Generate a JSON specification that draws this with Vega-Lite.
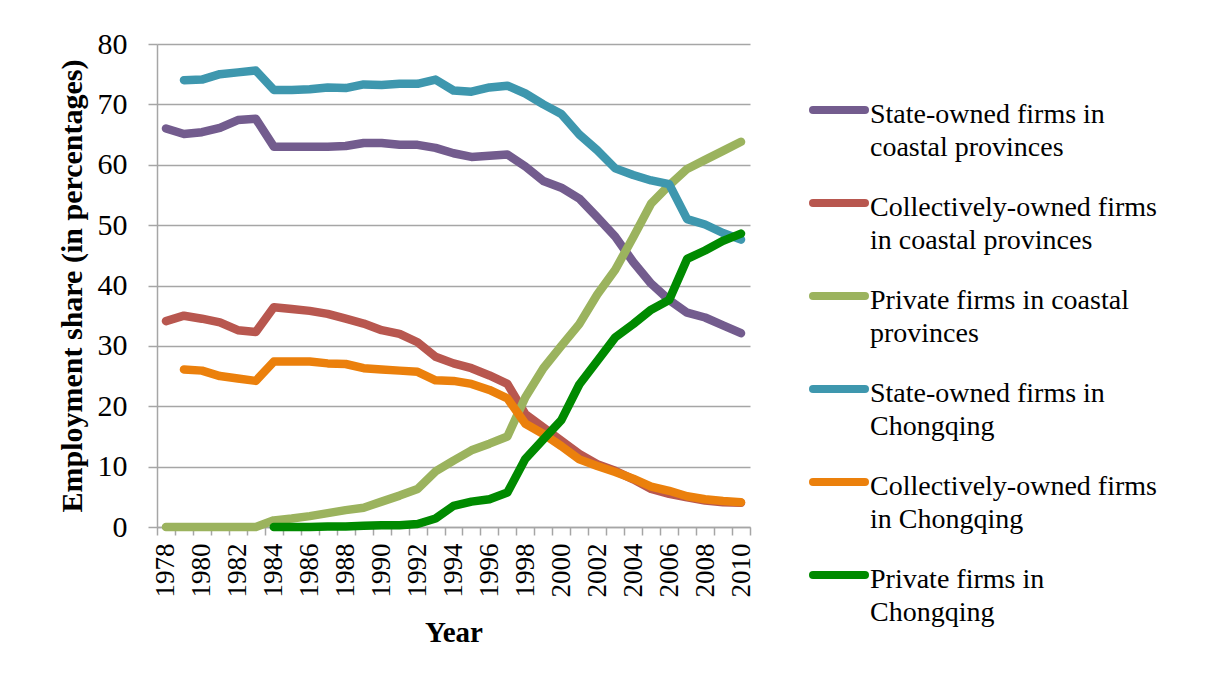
{
  "$schema": "https://vega.github.io/schema/vega-lite/v6.json",
  "width": 593,
  "height": 483,
  "autosize": {"type": "none"},
  "padding": {"left": 157, "top": 44, "right": 466, "bottom": 151},
  "background": "white",
  "config": {
    "view": {"stroke": null},
    "font": "Liberation Serif"
  },
  "data": {
    "values": [
      {"year": 1978, "series": "State-owned firms in coastal provinces", "value": 66.0},
      {"year": 1979, "series": "State-owned firms in coastal provinces", "value": 65.1},
      {"year": 1980, "series": "State-owned firms in coastal provinces", "value": 65.4},
      {"year": 1981, "series": "State-owned firms in coastal provinces", "value": 66.1},
      {"year": 1982, "series": "State-owned firms in coastal provinces", "value": 67.4},
      {"year": 1983, "series": "State-owned firms in coastal provinces", "value": 67.6},
      {"year": 1984, "series": "State-owned firms in coastal provinces", "value": 63.0},
      {"year": 1985, "series": "State-owned firms in coastal provinces", "value": 63.0},
      {"year": 1986, "series": "State-owned firms in coastal provinces", "value": 63.0},
      {"year": 1987, "series": "State-owned firms in coastal provinces", "value": 63.0},
      {"year": 1988, "series": "State-owned firms in coastal provinces", "value": 63.1},
      {"year": 1989, "series": "State-owned firms in coastal provinces", "value": 63.6},
      {"year": 1990, "series": "State-owned firms in coastal provinces", "value": 63.6},
      {"year": 1991, "series": "State-owned firms in coastal provinces", "value": 63.3},
      {"year": 1992, "series": "State-owned firms in coastal provinces", "value": 63.3},
      {"year": 1993, "series": "State-owned firms in coastal provinces", "value": 62.8},
      {"year": 1994, "series": "State-owned firms in coastal provinces", "value": 61.9},
      {"year": 1995, "series": "State-owned firms in coastal provinces", "value": 61.3},
      {"year": 1996, "series": "State-owned firms in coastal provinces", "value": 61.5},
      {"year": 1997, "series": "State-owned firms in coastal provinces", "value": 61.7},
      {"year": 1998, "series": "State-owned firms in coastal provinces", "value": 59.7},
      {"year": 1999, "series": "State-owned firms in coastal provinces", "value": 57.3},
      {"year": 2000, "series": "State-owned firms in coastal provinces", "value": 56.2},
      {"year": 2001, "series": "State-owned firms in coastal provinces", "value": 54.4},
      {"year": 2002, "series": "State-owned firms in coastal provinces", "value": 51.3},
      {"year": 2003, "series": "State-owned firms in coastal provinces", "value": 48.1},
      {"year": 2004, "series": "State-owned firms in coastal provinces", "value": 43.9},
      {"year": 2005, "series": "State-owned firms in coastal provinces", "value": 40.3},
      {"year": 2006, "series": "State-owned firms in coastal provinces", "value": 37.6},
      {"year": 2007, "series": "State-owned firms in coastal provinces", "value": 35.5},
      {"year": 2008, "series": "State-owned firms in coastal provinces", "value": 34.7},
      {"year": 2009, "series": "State-owned firms in coastal provinces", "value": 33.4},
      {"year": 2010, "series": "State-owned firms in coastal provinces", "value": 32.1},

      {"year": 1978, "series": "Collectively-owned firms in coastal provinces", "value": 34.1},
      {"year": 1979, "series": "Collectively-owned firms in coastal provinces", "value": 35.0},
      {"year": 1980, "series": "Collectively-owned firms in coastal provinces", "value": 34.5},
      {"year": 1981, "series": "Collectively-owned firms in coastal provinces", "value": 33.9},
      {"year": 1982, "series": "Collectively-owned firms in coastal provinces", "value": 32.6},
      {"year": 1983, "series": "Collectively-owned firms in coastal provinces", "value": 32.3},
      {"year": 1984, "series": "Collectively-owned firms in coastal provinces", "value": 36.4},
      {"year": 1985, "series": "Collectively-owned firms in coastal provinces", "value": 36.1},
      {"year": 1986, "series": "Collectively-owned firms in coastal provinces", "value": 35.8},
      {"year": 1987, "series": "Collectively-owned firms in coastal provinces", "value": 35.3},
      {"year": 1988, "series": "Collectively-owned firms in coastal provinces", "value": 34.5},
      {"year": 1989, "series": "Collectively-owned firms in coastal provinces", "value": 33.7},
      {"year": 1990, "series": "Collectively-owned firms in coastal provinces", "value": 32.6},
      {"year": 1991, "series": "Collectively-owned firms in coastal provinces", "value": 32.0},
      {"year": 1992, "series": "Collectively-owned firms in coastal provinces", "value": 30.6},
      {"year": 1993, "series": "Collectively-owned firms in coastal provinces", "value": 28.2},
      {"year": 1994, "series": "Collectively-owned firms in coastal provinces", "value": 27.1},
      {"year": 1995, "series": "Collectively-owned firms in coastal provinces", "value": 26.3},
      {"year": 1996, "series": "Collectively-owned firms in coastal provinces", "value": 25.1},
      {"year": 1997, "series": "Collectively-owned firms in coastal provinces", "value": 23.7},
      {"year": 1998, "series": "Collectively-owned firms in coastal provinces", "value": 18.7},
      {"year": 1999, "series": "Collectively-owned firms in coastal provinces", "value": 16.5},
      {"year": 2000, "series": "Collectively-owned firms in coastal provinces", "value": 14.3},
      {"year": 2001, "series": "Collectively-owned firms in coastal provinces", "value": 12.1},
      {"year": 2002, "series": "Collectively-owned firms in coastal provinces", "value": 10.4},
      {"year": 2003, "series": "Collectively-owned firms in coastal provinces", "value": 9.3},
      {"year": 2004, "series": "Collectively-owned firms in coastal provinces", "value": 7.9},
      {"year": 2005, "series": "Collectively-owned firms in coastal provinces", "value": 6.3},
      {"year": 2006, "series": "Collectively-owned firms in coastal provinces", "value": 5.5},
      {"year": 2007, "series": "Collectively-owned firms in coastal provinces", "value": 4.9},
      {"year": 2008, "series": "Collectively-owned firms in coastal provinces", "value": 4.4},
      {"year": 2009, "series": "Collectively-owned firms in coastal provinces", "value": 4.1},
      {"year": 2010, "series": "Collectively-owned firms in coastal provinces", "value": 4.0},

      {"year": 1978, "series": "Private firms in coastal provinces", "value": 0.0},
      {"year": 1979, "series": "Private firms in coastal provinces", "value": 0.0},
      {"year": 1980, "series": "Private firms in coastal provinces", "value": 0.0},
      {"year": 1981, "series": "Private firms in coastal provinces", "value": 0.0},
      {"year": 1982, "series": "Private firms in coastal provinces", "value": 0.0},
      {"year": 1983, "series": "Private firms in coastal provinces", "value": 0.0},
      {"year": 1984, "series": "Private firms in coastal provinces", "value": 1.1},
      {"year": 1985, "series": "Private firms in coastal provinces", "value": 1.4},
      {"year": 1986, "series": "Private firms in coastal provinces", "value": 1.8},
      {"year": 1987, "series": "Private firms in coastal provinces", "value": 2.3},
      {"year": 1988, "series": "Private firms in coastal provinces", "value": 2.8},
      {"year": 1989, "series": "Private firms in coastal provinces", "value": 3.2},
      {"year": 1990, "series": "Private firms in coastal provinces", "value": 4.2},
      {"year": 1991, "series": "Private firms in coastal provinces", "value": 5.2},
      {"year": 1992, "series": "Private firms in coastal provinces", "value": 6.3},
      {"year": 1993, "series": "Private firms in coastal provinces", "value": 9.2},
      {"year": 1994, "series": "Private firms in coastal provinces", "value": 11.0},
      {"year": 1995, "series": "Private firms in coastal provinces", "value": 12.7},
      {"year": 1996, "series": "Private firms in coastal provinces", "value": 13.8},
      {"year": 1997, "series": "Private firms in coastal provinces", "value": 15.0},
      {"year": 1998, "series": "Private firms in coastal provinces", "value": 21.5},
      {"year": 1999, "series": "Private firms in coastal provinces", "value": 26.3},
      {"year": 2000, "series": "Private firms in coastal provinces", "value": 30.0},
      {"year": 2001, "series": "Private firms in coastal provinces", "value": 33.6},
      {"year": 2002, "series": "Private firms in coastal provinces", "value": 38.5},
      {"year": 2003, "series": "Private firms in coastal provinces", "value": 42.6},
      {"year": 2004, "series": "Private firms in coastal provinces", "value": 48.0},
      {"year": 2005, "series": "Private firms in coastal provinces", "value": 53.6},
      {"year": 2006, "series": "Private firms in coastal provinces", "value": 56.6},
      {"year": 2007, "series": "Private firms in coastal provinces", "value": 59.3},
      {"year": 2008, "series": "Private firms in coastal provinces", "value": 60.8},
      {"year": 2009, "series": "Private firms in coastal provinces", "value": 62.3},
      {"year": 2010, "series": "Private firms in coastal provinces", "value": 63.8},

      {"year": 1979, "series": "State-owned firms in Chongqing", "value": 74.0},
      {"year": 1980, "series": "State-owned firms in Chongqing", "value": 74.1},
      {"year": 1981, "series": "State-owned firms in Chongqing", "value": 75.0},
      {"year": 1982, "series": "State-owned firms in Chongqing", "value": 75.3},
      {"year": 1983, "series": "State-owned firms in Chongqing", "value": 75.6},
      {"year": 1984, "series": "State-owned firms in Chongqing", "value": 72.4},
      {"year": 1985, "series": "State-owned firms in Chongqing", "value": 72.4},
      {"year": 1986, "series": "State-owned firms in Chongqing", "value": 72.5},
      {"year": 1987, "series": "State-owned firms in Chongqing", "value": 72.8},
      {"year": 1988, "series": "State-owned firms in Chongqing", "value": 72.7},
      {"year": 1989, "series": "State-owned firms in Chongqing", "value": 73.3},
      {"year": 1990, "series": "State-owned firms in Chongqing", "value": 73.2},
      {"year": 1991, "series": "State-owned firms in Chongqing", "value": 73.4},
      {"year": 1992, "series": "State-owned firms in Chongqing", "value": 73.4},
      {"year": 1993, "series": "State-owned firms in Chongqing", "value": 74.1},
      {"year": 1994, "series": "State-owned firms in Chongqing", "value": 72.3},
      {"year": 1995, "series": "State-owned firms in Chongqing", "value": 72.1},
      {"year": 1996, "series": "State-owned firms in Chongqing", "value": 72.8},
      {"year": 1997, "series": "State-owned firms in Chongqing", "value": 73.1},
      {"year": 1998, "series": "State-owned firms in Chongqing", "value": 71.8},
      {"year": 1999, "series": "State-owned firms in Chongqing", "value": 70.0},
      {"year": 2000, "series": "State-owned firms in Chongqing", "value": 68.4},
      {"year": 2001, "series": "State-owned firms in Chongqing", "value": 65.0},
      {"year": 2002, "series": "State-owned firms in Chongqing", "value": 62.4},
      {"year": 2003, "series": "State-owned firms in Chongqing", "value": 59.4},
      {"year": 2004, "series": "State-owned firms in Chongqing", "value": 58.3},
      {"year": 2005, "series": "State-owned firms in Chongqing", "value": 57.4},
      {"year": 2006, "series": "State-owned firms in Chongqing", "value": 56.8},
      {"year": 2007, "series": "State-owned firms in Chongqing", "value": 51.0},
      {"year": 2008, "series": "State-owned firms in Chongqing", "value": 50.1},
      {"year": 2009, "series": "State-owned firms in Chongqing", "value": 48.7},
      {"year": 2010, "series": "State-owned firms in Chongqing", "value": 47.6},

      {"year": 1979, "series": "Collectively-owned firms in Chongqing", "value": 26.1},
      {"year": 1980, "series": "Collectively-owned firms in Chongqing", "value": 25.9},
      {"year": 1981, "series": "Collectively-owned firms in Chongqing", "value": 25.0},
      {"year": 1982, "series": "Collectively-owned firms in Chongqing", "value": 24.6},
      {"year": 1983, "series": "Collectively-owned firms in Chongqing", "value": 24.2},
      {"year": 1984, "series": "Collectively-owned firms in Chongqing", "value": 27.4},
      {"year": 1985, "series": "Collectively-owned firms in Chongqing", "value": 27.4},
      {"year": 1986, "series": "Collectively-owned firms in Chongqing", "value": 27.4},
      {"year": 1987, "series": "Collectively-owned firms in Chongqing", "value": 27.1},
      {"year": 1988, "series": "Collectively-owned firms in Chongqing", "value": 27.0},
      {"year": 1989, "series": "Collectively-owned firms in Chongqing", "value": 26.3},
      {"year": 1990, "series": "Collectively-owned firms in Chongqing", "value": 26.1},
      {"year": 1991, "series": "Collectively-owned firms in Chongqing", "value": 25.9},
      {"year": 1992, "series": "Collectively-owned firms in Chongqing", "value": 25.7},
      {"year": 1993, "series": "Collectively-owned firms in Chongqing", "value": 24.3},
      {"year": 1994, "series": "Collectively-owned firms in Chongqing", "value": 24.2},
      {"year": 1995, "series": "Collectively-owned firms in Chongqing", "value": 23.7},
      {"year": 1996, "series": "Collectively-owned firms in Chongqing", "value": 22.7},
      {"year": 1997, "series": "Collectively-owned firms in Chongqing", "value": 21.3},
      {"year": 1998, "series": "Collectively-owned firms in Chongqing", "value": 17.1},
      {"year": 1999, "series": "Collectively-owned firms in Chongqing", "value": 15.4},
      {"year": 2000, "series": "Collectively-owned firms in Chongqing", "value": 13.4},
      {"year": 2001, "series": "Collectively-owned firms in Chongqing", "value": 11.2},
      {"year": 2002, "series": "Collectively-owned firms in Chongqing", "value": 10.1},
      {"year": 2003, "series": "Collectively-owned firms in Chongqing", "value": 9.1},
      {"year": 2004, "series": "Collectively-owned firms in Chongqing", "value": 8.0},
      {"year": 2005, "series": "Collectively-owned firms in Chongqing", "value": 6.7},
      {"year": 2006, "series": "Collectively-owned firms in Chongqing", "value": 6.0},
      {"year": 2007, "series": "Collectively-owned firms in Chongqing", "value": 5.1},
      {"year": 2008, "series": "Collectively-owned firms in Chongqing", "value": 4.6},
      {"year": 2009, "series": "Collectively-owned firms in Chongqing", "value": 4.3},
      {"year": 2010, "series": "Collectively-owned firms in Chongqing", "value": 4.1},

      {"year": 1984, "series": "Private firms in Chongqing", "value": 0.0},
      {"year": 1985, "series": "Private firms in Chongqing", "value": 0.0},
      {"year": 1986, "series": "Private firms in Chongqing", "value": 0.0},
      {"year": 1987, "series": "Private firms in Chongqing", "value": 0.1},
      {"year": 1988, "series": "Private firms in Chongqing", "value": 0.1},
      {"year": 1989, "series": "Private firms in Chongqing", "value": 0.2},
      {"year": 1990, "series": "Private firms in Chongqing", "value": 0.3},
      {"year": 1991, "series": "Private firms in Chongqing", "value": 0.3},
      {"year": 1992, "series": "Private firms in Chongqing", "value": 0.5},
      {"year": 1993, "series": "Private firms in Chongqing", "value": 1.4},
      {"year": 1994, "series": "Private firms in Chongqing", "value": 3.5},
      {"year": 1995, "series": "Private firms in Chongqing", "value": 4.2},
      {"year": 1996, "series": "Private firms in Chongqing", "value": 4.6},
      {"year": 1997, "series": "Private firms in Chongqing", "value": 5.7},
      {"year": 1998, "series": "Private firms in Chongqing", "value": 11.3},
      {"year": 1999, "series": "Private firms in Chongqing", "value": 14.5},
      {"year": 2000, "series": "Private firms in Chongqing", "value": 17.7},
      {"year": 2001, "series": "Private firms in Chongqing", "value": 23.6},
      {"year": 2002, "series": "Private firms in Chongqing", "value": 27.5},
      {"year": 2003, "series": "Private firms in Chongqing", "value": 31.4},
      {"year": 2004, "series": "Private firms in Chongqing", "value": 33.6},
      {"year": 2005, "series": "Private firms in Chongqing", "value": 36.0},
      {"year": 2006, "series": "Private firms in Chongqing", "value": 37.6},
      {"year": 2007, "series": "Private firms in Chongqing", "value": 44.4},
      {"year": 2008, "series": "Private firms in Chongqing", "value": 45.8},
      {"year": 2009, "series": "Private firms in Chongqing", "value": 47.4},
      {"year": 2010, "series": "Private firms in Chongqing", "value": 48.6}
    ]
  },
  "mark": {"type": "line", "strokeWidth": 8.5, "strokeCap": "round", "strokeJoin": "round"},
  "encoding": {
    "x": {
      "field": "year",
      "type": "ordinal",
      "bandPosition": 0.5,
      "scale": {"type": "band", "paddingInner": 0, "paddingOuter": 0},
      "axis": {
        "title": "Year",
        "titleFont": "Liberation Serif",
        "titleFontSize": 29,
        "titleFontWeight": "bold",
        "titleColor": "black",
        "titlePadding": 21,
        "labelAngle": -90,
        "labelFont": "Liberation Serif",
        "labelFontSize": 27,
        "labelColor": "black",
        "labelPadding": 8,
        "labelExpr": "datum.value % 2 == 0 ? datum.label : ''",
        "labelOverlap": false,
        "tickBand": "extent",
        "tickSize": 8,
        "tickColor": "#a6a6a6",
        "tickWidth": 1.5,
        "domainColor": "#a6a6a6",
        "domainWidth": 1.5,
        "grid": false
      }
    },
    "y": {
      "field": "value",
      "type": "quantitative",
      "scale": {"domain": [0, 80], "nice": false},
      "axis": {
        "title": "Employment share (in percentages)",
        "titleFont": "Liberation Serif",
        "titleFontSize": 30,
        "titleFontWeight": "bold",
        "titleColor": "black",
        "titlePadding": 10,
        "values": [0, 10, 20, 30, 40, 50, 60, 70, 80],
        "labelFont": "Liberation Serif",
        "labelFontSize": 30,
        "labelColor": "black",
        "labelPadding": 21,
        "tickSize": 9,
        "tickColor": "#a6a6a6",
        "tickWidth": 1.5,
        "domainColor": "#a6a6a6",
        "domainWidth": 1.5,
        "grid": true,
        "gridColor": "#a6a6a6",
        "gridWidth": 1.5
      }
    },
    "color": {
      "field": "series",
      "type": "nominal",
      "sort": null,
      "scale": {
        "domain": [
          "State-owned firms in coastal provinces",
          "Collectively-owned firms in coastal provinces",
          "Private firms in coastal provinces",
          "State-owned firms in Chongqing",
          "Collectively-owned firms in Chongqing",
          "Private firms in Chongqing"
        ],
        "range": ["#735C8E", "#B8574F", "#9BB35E", "#3E97AE", "#EB800C", "#008A00"]
      },
      "legend": {
        "title": null,
        "orient": "none",
        "legendX": 652,
        "legendY": 36,
        "padding": 0,
        "symbolType": "stroke",
        "symbolSize": 2704,
        "symbolStrokeWidth": 8,
        "labelFont": "Liberation Serif",
        "labelFontSize": 28,
        "labelColor": "black",
        "labelLimit": 0,
        "labelOffset": 1,
        "rowPadding": 11,
        "labelBaseline": "top",
        "encode": {
          "labels": {"update": {"dy": {"value": -9}, "lineHeight": {"value": 33}}},
          "symbols": {"update": {"strokeCap": {"value": "round"}}}
        },
        "labelExpr": "datum.label == 'State-owned firms in coastal provinces' ? ['State-owned firms in', 'coastal provinces'] : datum.label == 'Collectively-owned firms in coastal provinces' ? ['Collectively-owned firms', 'in coastal provinces'] : datum.label == 'Private firms in coastal provinces' ? ['Private firms in coastal', 'provinces'] : datum.label == 'State-owned firms in Chongqing' ? ['State-owned firms in', 'Chongqing'] : datum.label == 'Collectively-owned firms in Chongqing' ? ['Collectively-owned firms', 'in Chongqing'] : ['Private firms in', 'Chongqing']"
      }
    }
  }
}
